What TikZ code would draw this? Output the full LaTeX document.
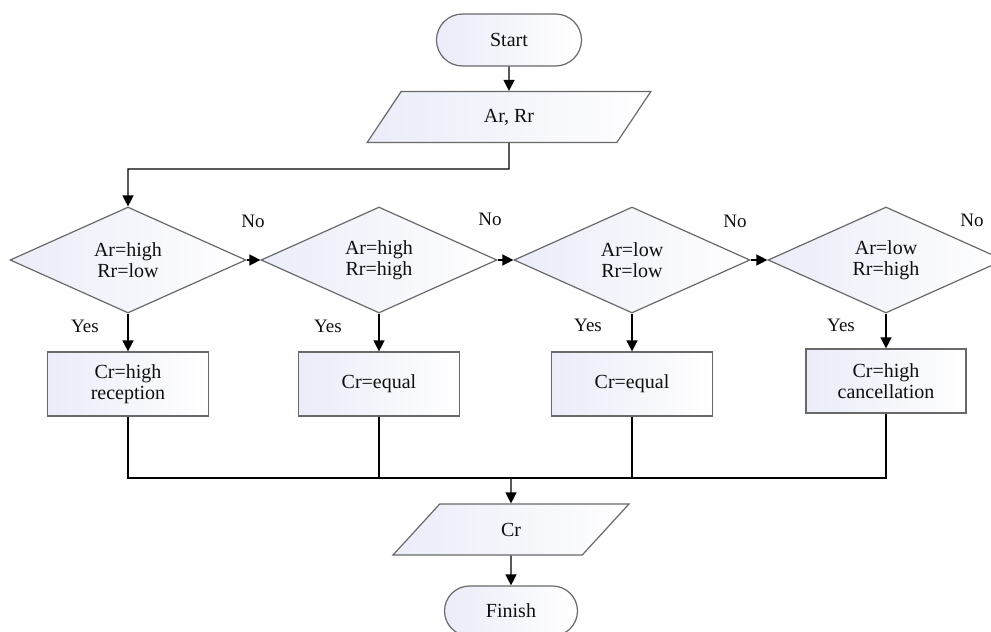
\documentclass[tikz,border=0pt]{standalone}
\usepackage{fontspec}
\setmainfont{Liberation Serif}
\usetikzlibrary{shapes.geometric,shapes.misc,arrows.meta}

\definecolor{edgegray}{RGB}{105,105,105}
\definecolor{shadeL}{RGB}{234,236,248}
\definecolor{inkc}{RGB}{15,15,15}

\tikzset{
  base/.style={draw=edgegray, line width=1.2pt, left color=shadeL, right color=white,
    text=inkc, align=center, inner sep=0pt, font=\fontsize{20}{21}\selectfont},
  terminal/.style={base, rounded rectangle, minimum height=52pt},
  iobox/.style={base, trapezium, trapezium left angle=64, trapezium right angle=116,
    trapezium stretches=true, minimum height=51pt},
  decision/.style={base, diamond, shape aspect=2.2, minimum width=236pt, minimum height=106pt},
  process/.style={base, rectangle, minimum width=161pt, minimum height=64pt},
  conn/.style={draw=black, line width=1.4pt},
  arr/.style={conn, -{Triangle[length=11pt,width=11pt]}},
  lbl/.style={text=inkc, font=\fontsize{19}{21}\selectfont, inner sep=0pt}
}

\begin{document}
\begin{tikzpicture}[x=1pt, y=-1pt]
  \useasboundingbox (0,0) rectangle (991,632);

  % terminals and data blocks
  \node[terminal, minimum width=145pt] (start) at (509,40) {Start};
  \node[iobox, minimum width=284pt] (inp) at (509,117) {Ar, Rr};

  % decision chain
  \node[decision] (d1) at (128,260) {Ar=high\\Rr=low};
  \node[decision] (d2) at (379,260) {Ar=high\\Rr=high};
  \node[decision] (d3) at (632,260) {Ar=low\\Rr=low};
  \node[decision] (d4) at (886,260) {Ar=low\\Rr=high};

  % outcomes
  \node[process] (b1) at (128,384) {Cr=high\\reception};
  \node[process] (b2) at (379,384) {Cr=equal};
  \node[process] (b3) at (632,384) {Cr=equal};
  \node[process, minimum width=160pt] (b4) at (886,381) {Cr=high\\cancellation};

  \node[iobox, minimum width=236pt] (out) at (511,529.5) {Cr};
  \node[terminal, minimum width=133pt, minimum height=50pt] (fin) at (511,611) {Finish};

  % branch labels
  \node[lbl] (no1) at (253,221) {No};
  \node[lbl] (no2) at (490,219) {No};
  \node[lbl] (no3) at (735,221) {No};
  \node[lbl] (no4) at (972,220) {No};
  \node[lbl] (yes1) at (85,326) {Yes};
  \node[lbl] (yes2) at (328,326) {Yes};
  \node[lbl] (yes3) at (588,325) {Yes};
  \node[lbl] (yes4) at (841,325) {Yes};

  % helper points for routed lines
  \coordinate (elbow) at (509,169);
  \coordinate (bus) at (511,478);

  % connectors
  \draw[arr] (start.south) -- (inp.north);
  \draw[arr] (inp.south) -- (elbow) -| (d1.north);
  \draw[arr] (d1.east) -- (d2.west);
  \draw[arr] (d2.east) -- (d3.west);
  \draw[arr] (d3.east) -- (d4.west);
  \draw[arr] (d1.south) -- (b1.north);
  \draw[arr] (d2.south) -- (b2.north);
  \draw[arr] (d3.south) -- (b3.north);
  \draw[arr] (d4.south) -- (b4.north);
  \draw[conn] (b1.south) |- (b4.south |- bus) -- (b4.south);
  \draw[conn] (b2.south) -- (b2.south |- bus);
  \draw[conn] (b3.south) -- (b3.south |- bus);
  \draw[arr] (bus) -- (out.north);
  \draw[arr] (out.south) -- (fin.north);
\end{tikzpicture}
\end{document}
